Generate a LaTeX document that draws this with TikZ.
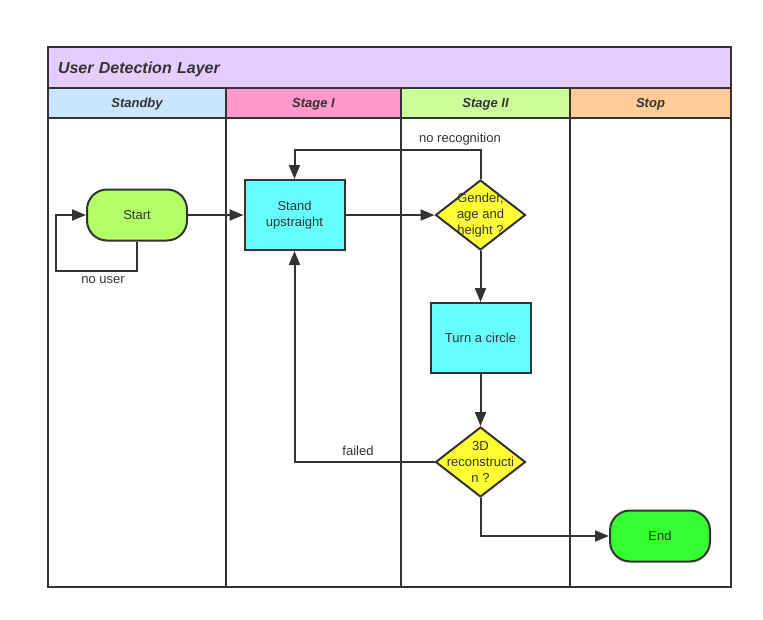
\documentclass[tikz,border=0pt]{standalone}
\usepackage{fontspec}
\setmainfont{Liberation Sans}
\usetikzlibrary{shapes.geometric,arrows.meta}
\definecolor{lineColor}{RGB}{51,51,51}
\definecolor{titleColor}{RGB}{229,204,255}
\definecolor{standbyColor}{RGB}{204,229,255}
\definecolor{stageOneColor}{RGB}{255,153,204}
\definecolor{stageTwoColor}{RGB}{204,255,153}
\definecolor{stopColor}{RGB}{255,204,153}
\definecolor{startColor}{RGB}{179,255,102}
\definecolor{endColor}{RGB}{51,255,51}
\definecolor{taskColor}{RGB}{102,255,255}
\definecolor{decisionColor}{RGB}{255,255,51}

\begin{document}
\begin{tikzpicture}[x=1pt, y=-1pt, font=\fontsize{13}{16}\selectfont, text=lineColor,
    header/.style={rectangle, draw=lineColor, line width=2pt, minimum height=30pt, text height=9.5pt, text depth=1pt, font=\fontsize{13}{15}\selectfont\bfseries\itshape},
    terminal/.style={rectangle, rounded corners=20pt, draw=lineColor, line width=2pt, minimum width=100pt, minimum height=51pt},
    task/.style={rectangle, draw=lineColor, line width=2pt, minimum width=100pt, minimum height=70pt, align=center},
    decision/.style={diamond, draw=lineColor, line width=2pt, fill=decisionColor, inner sep=0pt, minimum width=90pt, minimum height=70pt},
    flow/.style={draw=lineColor, line width=2pt, -{Triangle[length=14pt, width=11pt]}}]
    \useasboundingbox (0,0) rectangle (763,619);

    % Pool and lanes
    \node[rectangle, draw=lineColor, line width=2pt, fill=titleColor, minimum width=683pt, minimum height=41pt, text width=663pt, text height=12pt, text depth=1pt, inner xsep=10pt, align=left, font=\fontsize{16}{18}\selectfont\bfseries\itshape] (pool) at (389.5,67.5) {User Detection Layer};
    \node[header, fill=standbyColor, minimum width=178pt] (standby) at (137,103) {Standby};
    \node[header, fill=stageOneColor, minimum width=175pt] (stageone) at (313.5,103) {Stage I};
    \node[header, fill=stageTwoColor, minimum width=169pt] (stagetwo) at (485.5,103) {Stage II};
    \node[header, fill=stopColor, minimum width=161pt] (stop) at (650.5,103) {Stop};
    \foreach \xa/\xb in {48/226, 226/401, 401/570, 570/731}
        \draw[lineColor, line width=2pt] (\xa,118) rectangle (\xb,587);

    % Flow nodes
    \node[terminal, fill=startColor] (start) at (137,215) {Start};
    \node[task, fill=taskColor] (stand) at (294.5,215) {Stand\\upstraight};
    \node[decision, label={[align=center, text=lineColor]center:Gender,\\age and\\height ?}] (gender) at (480.5,215) {};
    \node[task, fill=taskColor] (turn) at (480.5,338) {Turn a circle};
    \node[decision, label={[align=center, text=lineColor]center:3D\\reconstructi\\n ?}] (recon) at (480.5,462) {};
    \node[terminal, fill=endColor] (finish) at (660,536) {End};

    % Connectors
    \draw[flow] (start.south) -- ++(0,29) -| ([xshift=-30pt]start.west) -- (start.west);
    \draw[flow] (start) -- (stand);
    \draw[flow] (stand) -- (gender);
    \draw[flow] (gender.north) -- ++(0,-29) -| (stand.north);
    \draw[flow] (gender) -- (turn);
    \draw[flow] (turn) -- (recon);
    \draw[flow] (recon.west) -| (stand.south);
    \draw[flow] (recon.south) |- (finish.west);

    % Labels
    \node (nouser) at (103,280) {no user};
    \node (norecog) at (460,139) {no recognition};
    \node (failed) at (358,451) {failed};
\end{tikzpicture}
\end{document}
